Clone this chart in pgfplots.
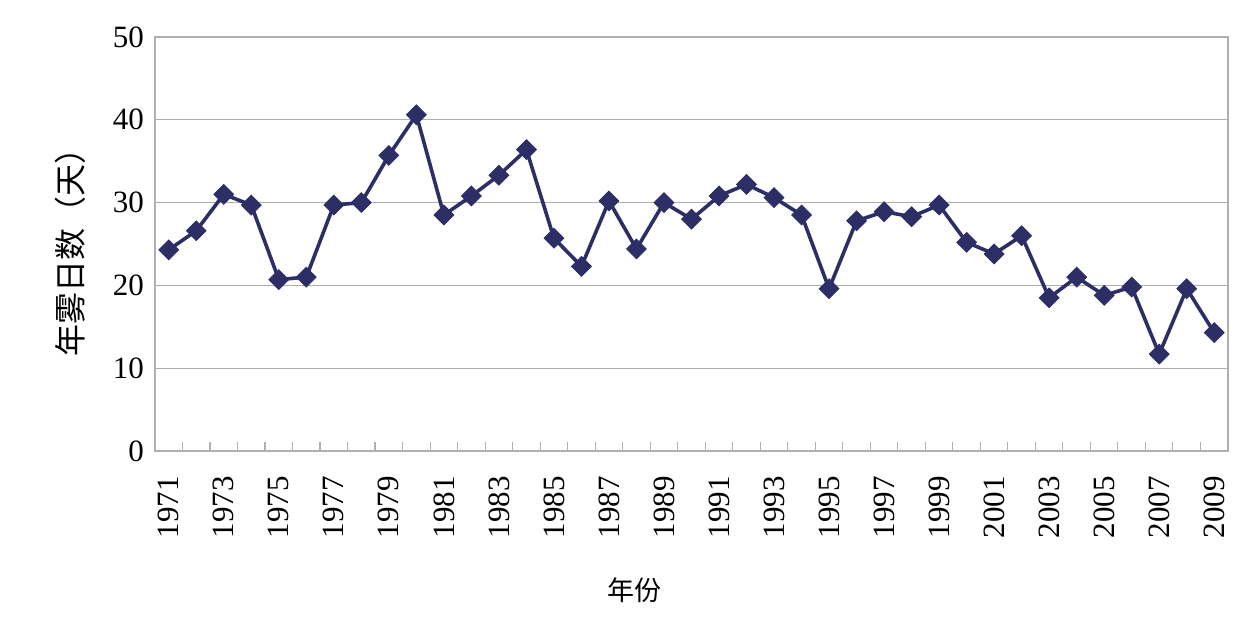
\documentclass[border=0pt]{standalone}
\usepackage{pgfplots}
\pgfplotsset{compat=1.18}
\usepackage{fontspec}
\setmainfont{Liberation Serif}
\newfontfamily\cjk{Noto Sans CJK SC}
\definecolor{series}{RGB}{46,46,102}
\definecolor{gridgray}{RGB}{175,175,175}

\pgfplotstableread{
year days
1971 24.3
1972 26.6
1973 31.0
1974 29.7
1975 20.7
1976 21.0
1977 29.7
1978 30.0
1979 35.7
1980 40.6
1981 28.5
1982 30.8
1983 33.3
1984 36.4
1985 25.7
1986 22.3
1987 30.2
1988 24.4
1989 30.0
1990 28.0
1991 30.8
1992 32.2
1993 30.6
1994 28.5
1995 19.6
1996 27.8
1997 28.9
1998 28.3
1999 29.7
2000 25.2
2001 23.8
2002 26.0
2003 18.5
2004 21.0
2005 18.8
2006 19.8
2007 11.7
2008 19.6
2009 14.3
}\fogdays

\begin{document}
\begin{tikzpicture}
\begin{axis}[
    width=536.5pt, height=207pt, scale only axis,
    xmin=1970.5, xmax=2009.5,
    ymin=0, ymax=50,
    ytick={0,10,...,50},
    xtick={1971,1973,...,2009},
    minor xtick={1970.5,1971.5,...,2009.5},
    xtick pos=bottom, ytick pos=left,
    tick align=inside,
    major tick length=0pt, minor tick length=4.5pt,
    ytick style={draw=none},
    ymajorgrids,
    grid style={gridgray, line width=0.6pt},
    axis line style={gridgray, line width=0.6pt},
    minor tick style={gridgray, line width=0.6pt},
    /pgf/number format/1000 sep={},
    /pgf/number format/assume math mode=true,
    ticklabel style={font=\fontsize{15.5}{18}\selectfont},
    yticklabel style={xshift=-2pt},
    xticklabel style={rotate=90, anchor=east, xshift=-9pt},
    xlabel={\cjk 年份},
    xlabel style={at={(axis description cs:0.447,-0.336)}, anchor=center, font=\fontsize{13.5}{16}\selectfont},
    ylabel={\cjk 年雾日数（天）},
    ylabel style={at={(axis description cs:-0.0792,0.5)}, anchor=center, rotate=0, font=\fontsize{16}{19}\selectfont},
    clip=false,
]
\addplot[series, line width=1.8pt, mark=square*, mark size=3.5pt,
    mark options={fill=series, draw=series, line width=0.4pt, rotate=45}]
    table[x=year, y=days] {\fogdays};
\coordinate (sw) at (rel axis cs:0,0);
\coordinate (ne) at (rel axis cs:1,1);
\end{axis}
\path ([shift={(-77.5pt,-89.5pt)}]sw) rectangle ([shift={(7pt,18.5pt)}]ne);
\end{tikzpicture}
\end{document}
